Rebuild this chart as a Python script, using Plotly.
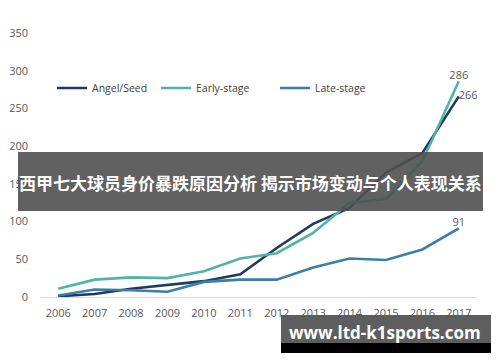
import plotly.graph_objects as go

years = ["2006", "2007", "2008", "2009", "2010", "2011", "2012", "2013", "2014", "2015", "2016", "2017"]
angel_seed = [1, 4, 11, 16, 21, 30, 65, 97, 118, 165, 191, 266]
early_stage = [11, 23, 26, 25, 34, 51, 58, 85, 125, 130, 180, 286]
late_stage = [2, 10, 9, 7, 20, 23, 23, 39, 51, 49, 63, 91]
series_names = ["Angel/Seed", "Early-stage", "Late-stage"]
series_colors = ["#1f3a5c", "#4fb5a2", "#3b7eab"]
label_positions = ["middle right", "top center", "top center"]
y_ticks = [0, 50, 100, 150, 200, 250, 300, 350]
title_text = "西甲七大球员身价暴跌原因分析 揭示市场变动与个人表现关系"
banner_text = "www.ltd-k1sports.com"

fig = go.Figure()
all_series = [angel_seed, early_stage, late_stage]
legend_ids = ["legend", "legend2", "legend3"]
for vals, name, col, pos, lg in zip(all_series, series_names, series_colors, label_positions, legend_ids):
    txt = [""] * (len(vals) - 1) + [str(vals[-1])]
    fig.add_trace(go.Scatter(
        x=years, y=vals, name=name, mode="lines+text",
        line=dict(color=col, width=2.6),
        text=txt, textposition=pos,
        textfont=dict(size=11, color="#595959", family="Open Sans"),
        cliponaxis=False, legend=lg,
    ))

# plot area: x 40..477 px, y 33..297 px
L, R, T, B = 40, 477, 33, 297
W, H = R - L, B - T
px = lambda x: (x - L) / W
py = lambda y: (B - y) / H

legfont = dict(size=10.5, color="#404040", family="Open Sans")
fig.update_layout(
    width=500, height=362,
    margin=dict(l=L, r=500 - R, t=T, b=362 - B, pad=0),
    paper_bgcolor="white", plot_bgcolor="white",
    showlegend=True,
    legend=dict(x=px(52), y=py(88), xanchor="left", yanchor="middle", orientation="h", font=legfont, bgcolor="rgba(0,0,0,0)"),
    legend2=dict(x=px(156), y=py(88), xanchor="left", yanchor="middle", orientation="h", font=legfont, bgcolor="rgba(0,0,0,0)"),
    legend3=dict(x=px(275), y=py(88), xanchor="left", yanchor="middle", orientation="h", font=legfont, bgcolor="rgba(0,0,0,0)"),
    xaxis=dict(type="category", range=[-0.5, 11.5], showgrid=False, zeroline=False, showline=True, linecolor="#d9d9d9", linewidth=1,
               ticks="", tickfont=dict(size=11, color="#595959", family="Open Sans"), ticklabelstandoff=6, automargin=False),
    yaxis=dict(range=[0, 350], tickvals=y_ticks, showgrid=False, zeroline=False, showline=False,
               ticks="", tickfont=dict(size=11, color="#595959", family="Open Sans"), ticklabelstandoff=11, automargin=False),
)

shapes = [
    dict(type="rect", xref="paper", yref="paper", x0=px(18), x1=px(483), y0=py(211), y1=py(152),
         fillcolor="rgba(80,80,80,0.9)", line=dict(width=0), layer="above"),
    dict(type="rect", xref="paper", yref="paper", x0=px(281), x1=px(491), y0=py(343), y1=py(315),
         fillcolor="rgba(85,85,85,0.95)", line=dict(width=0), layer="above"),
    dict(type="rect", xref="paper", yref="paper", x0=px(281), x1=px(491), y0=py(353), y1=py(343),
         fillcolor="#000000", line=dict(width=0), layer="above"),
]
fig.update_layout(shapes=shapes)

fig.add_annotation(x=px(250.5), y=py(183), xref="paper", yref="paper", text="<b>" + title_text + "</b>",
                   showarrow=False, font=dict(size=17, color="white", family="Noto Sans CJK SC"),
                   xanchor="center", yanchor="middle")
fig.add_annotation(x=px(385), y=py(332), xref="paper", yref="paper", text="<b>" + banner_text + "</b>",
                   showarrow=False, font=dict(size=17, color="white", family="Open Sans"),
                   xanchor="center", yanchor="middle")

fig.write_html("out.html", config={"displayModeBar": False},
               post_script="document.body.style.margin='0';document.body.style.overflow='hidden';")
